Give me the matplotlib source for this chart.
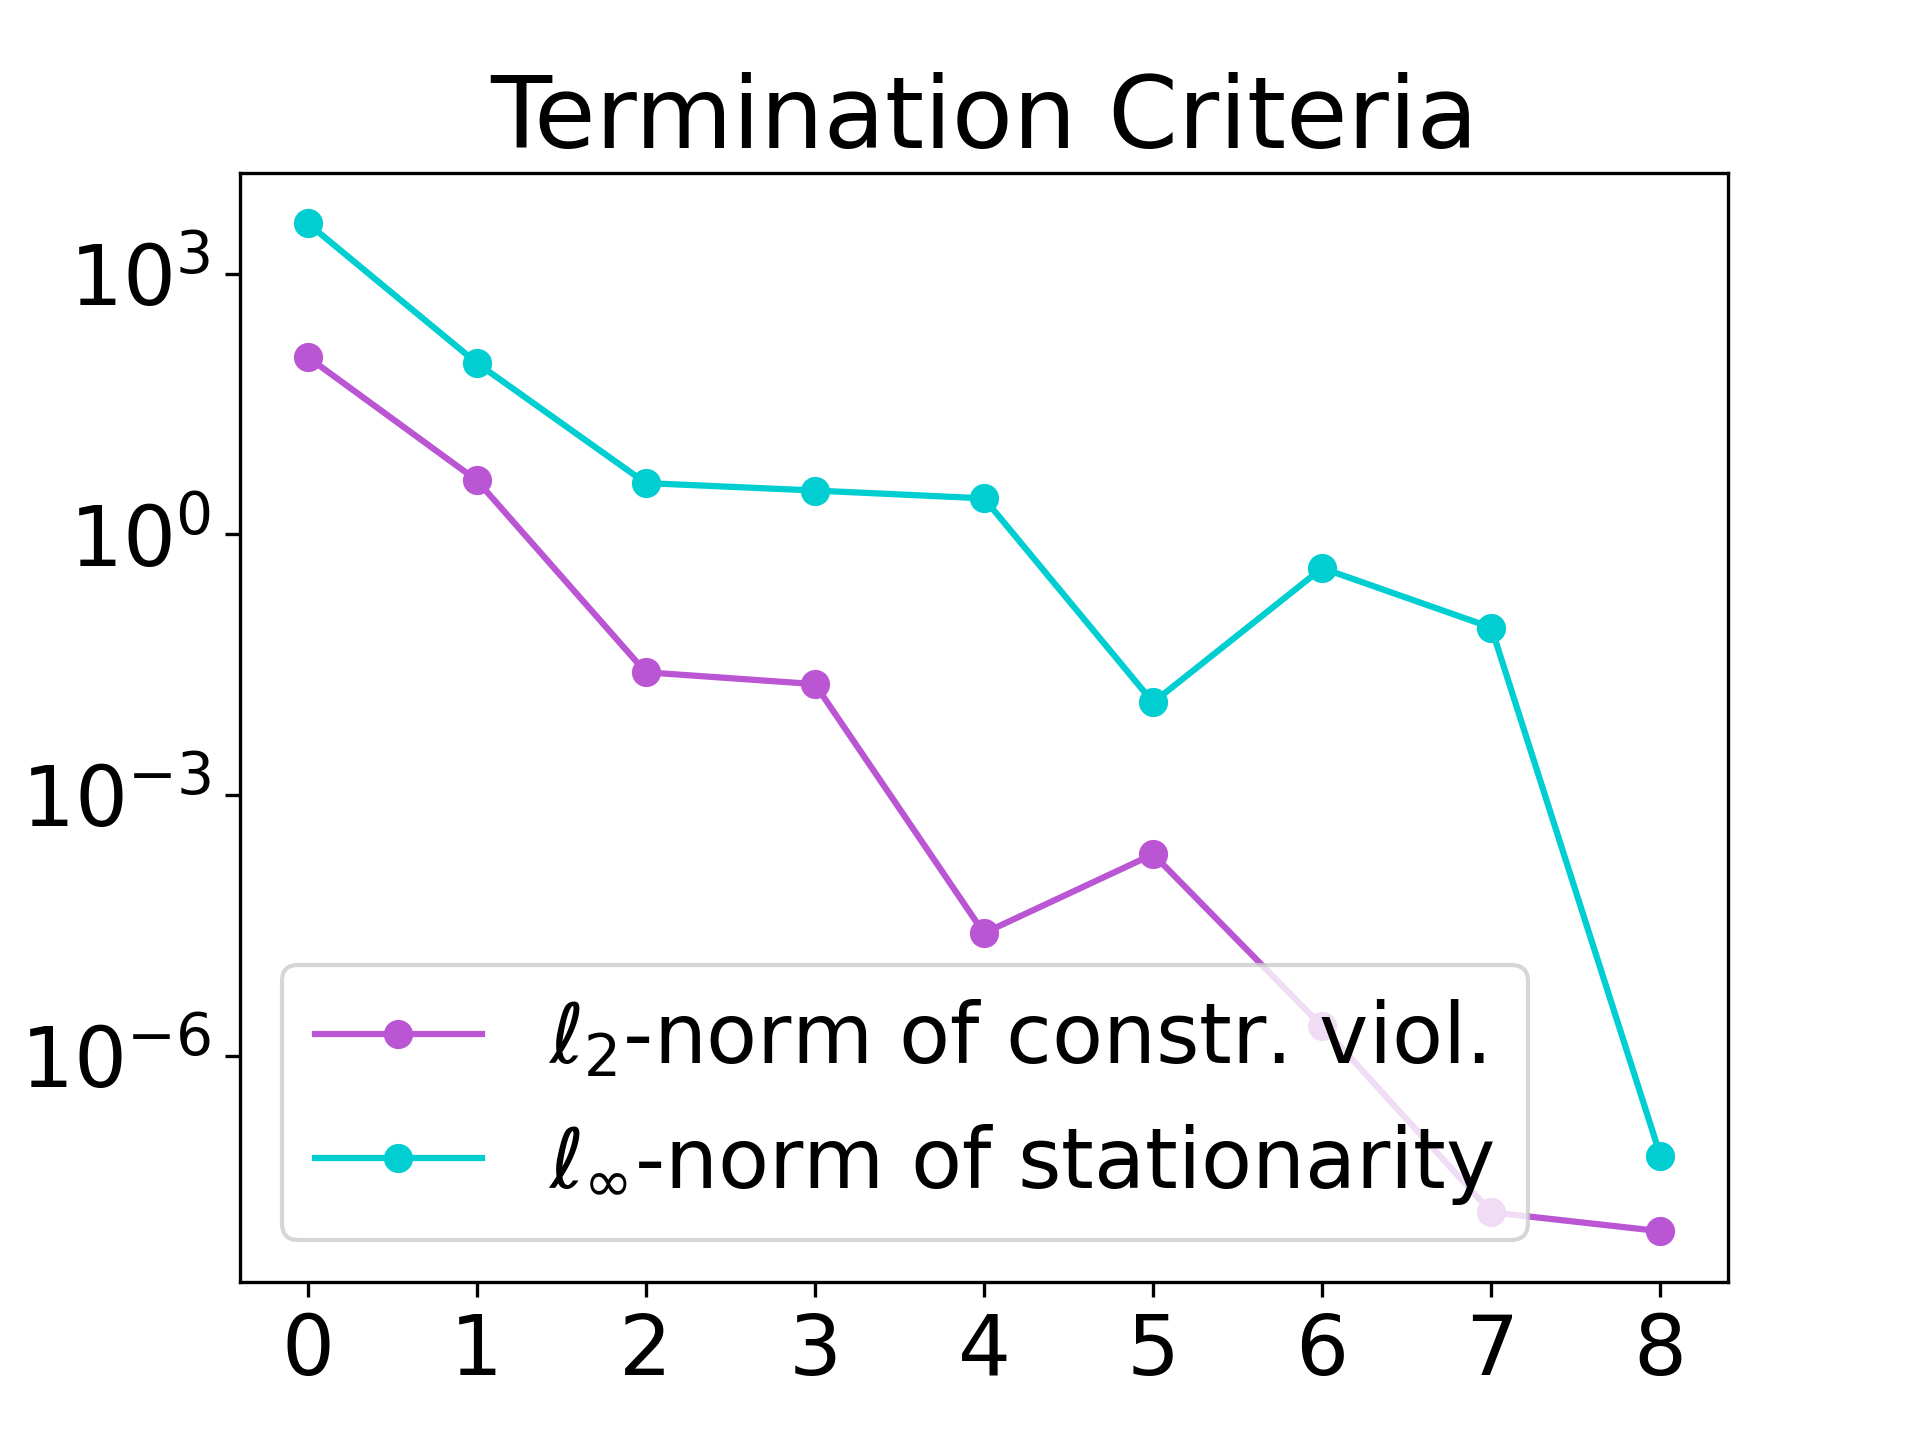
import matplotlib
matplotlib.use('Agg')
import matplotlib.pyplot as plt

iteraciones = [0, 1, 2, 3, 4, 5, 6, 7, 8]
viol_restr = [110, 4.2, 0.026, 0.019, 2.6e-5, 2.1e-4, 2.2e-6, 1.6e-8, 9.7e-9]
estacionaridad = [3800, 94, 3.9, 3.2, 2.6, 0.0117, 0.41, 0.085, 7.2e-8]

etiqueta_viol = r'$\ell_2$-norm of constr. viol.'
etiqueta_est = r'$\ell_\infty$-norm of stationarity'

plt.rcParams['xtick.labelsize'] = 20
plt.rcParams['ytick.labelsize'] = 20

plt.figure(figsize=(6.4, 4.8), dpi=300)
plt.plot(iteraciones, viol_restr, marker='o', color='mediumorchid', label=etiqueta_viol)
plt.plot(iteraciones, estacionaridad, marker='o', color='darkturquoise', label=etiqueta_est)
plt.yscale('log')
plt.xticks(iteraciones)
plt.title('Termination Criteria', fontsize=24)
plt.legend(fontsize=20, loc='lower left')
plt.savefig('out.png', dpi=300)
plt.close()
